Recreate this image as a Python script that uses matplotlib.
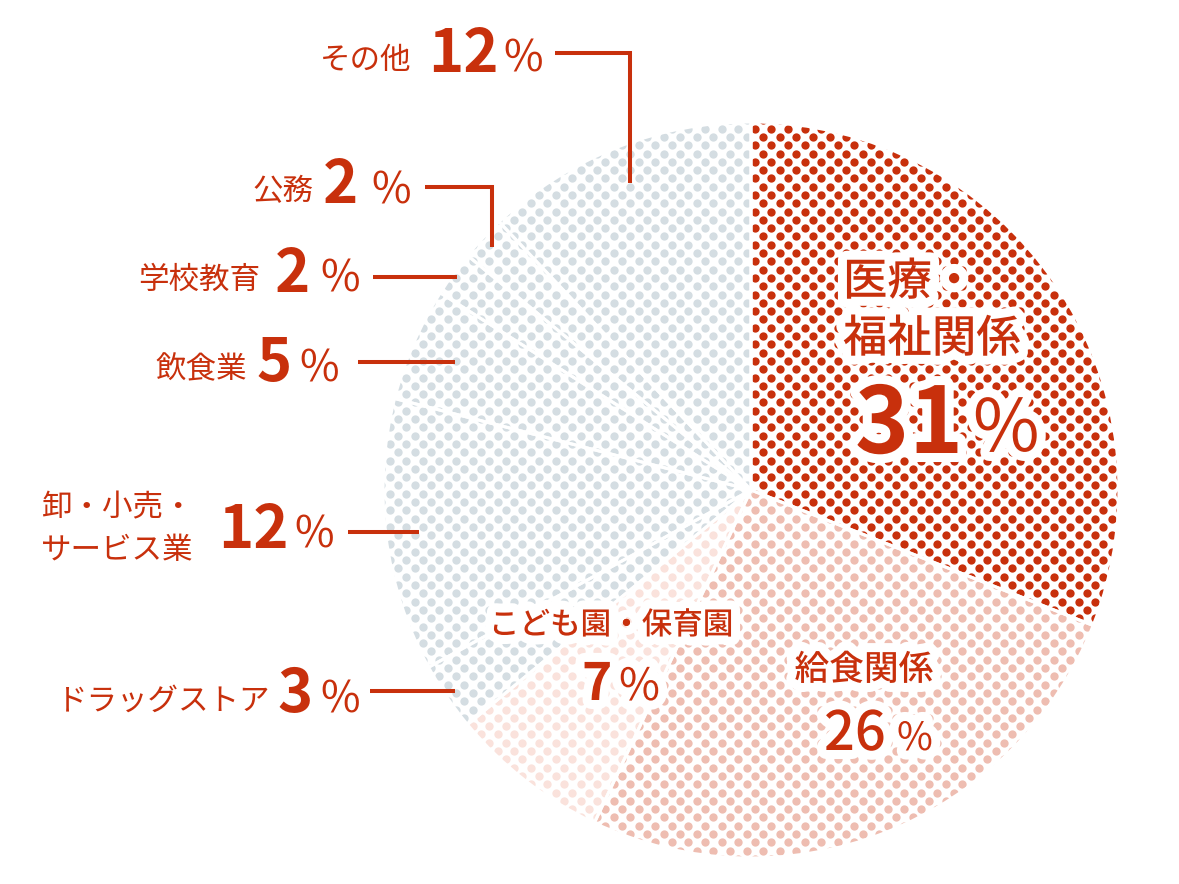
import matplotlib
matplotlib.use('Agg')
import matplotlib.pyplot as plt
import matplotlib.patheffects as pe
import numpy as np

# ---------------- data ----------------
categories = ['医療・福祉関係', '給食関係', 'こども園・保育園', 'ドラッグストア',
              '卸・小売・サービス業', '飲食業', '学校教育', '公務', 'その他']
shares = [31, 26, 7, 3, 12, 5, 2, 2, 12]

# ---------------- style ----------------
RED = '#C8300C'
dot_colors = ['#C8300C', '#EEBDB1', '#FAE2DC', '#D4DDE2', '#D4DDE2',
              '#D4DDE2', '#D4DDE2', '#D4DDE2', '#D4DDE2']
FONT = ['Noto Sans CJK JP', 'DejaVu Sans']
plt.rcParams['font.family'] = FONT

W, H = 1179, 884
CX, CY, R = 751, 490, 368
DX, DY = 16.6, 8.3          # dot grid spacing (px)
DOT_D = 8.3                 # dot diameter (px)

fig = plt.figure(figsize=(W / 100, H / 100), dpi=100)
ax = fig.add_axes([0, 0, 1, 1])

wedges, _ = ax.pie(shares, startangle=-90, counterclock=True,
                   center=(CX, CY), radius=R,
                   wedgeprops=dict(facecolor='none', edgecolor='white',
                                   linewidth=2.2, zorder=3))
ax.set_xlim(0, W)
ax.set_ylim(H, 0)
ax.set_aspect('auto')
ax.axis('off')

# dot texture, clipped by every wedge
pts = []
for i, yy in enumerate(np.arange(CY - R - 10, CY + R + 10, DY)):
    off = DX / 2 if i % 2 else 0.0
    for xx in np.arange(CX - R - 10 + off, CX + R + 10, DX):
        if (xx - CX) ** 2 + (yy - CY) ** 2 < (R + 8) ** 2:
            pts.append((xx, yy))
pts = np.array(pts)
s_pt = (DOT_D * 72 / 100) ** 2
for w, col in zip(wedges, dot_colors):
    sc = ax.scatter(pts[:, 0], pts[:, 1], s=s_pt, c=col, linewidths=0, zorder=1)
    sc.set_clip_path(w)

# ---------------- labels ----------------
halo = [pe.Stroke(linewidth=13, foreground='white'), pe.Normal()]

def txt(x, y, s, size, weight='normal', ha='left', va='baseline', effects=None, **kw):
    ax.text(x, y, s, fontsize=size, fontweight=weight, color=RED, ha=ha, va=va,
            path_effects=effects, zorder=5, **kw)

cum = np.cumsum([0] + shares)
total = float(sum(shares))
mid_deg = [(cum[i] + cum[i + 1]) / 2 / total * 360 for i in range(len(shares))]

def ray_point(i, r):
    a = np.deg2rad(mid_deg[i])
    return CX + r * np.sin(a), CY - r * np.cos(a)

# outer labels: (index, end radius, elbow y or None, line start x,
#                text right x, number left x, % left x, baseline offset)
outer = [
    (8, 330, 53, 555, 411, 428, 503, 19),
    (7, 355, 187, 425, 313, 323, 371, 16),
    (6, 363, None, 373, 260, 275, 320, 15),
    (5, 322, None, 358, 247, 257, 299, 19),
    (4, 335, None, 348, None, 218, 294, 16),
    (3, 358, None, 370, 270, 277, 320, 21),
]
outer_text = {8: 'その他', 7: '公務', 6: '学校教育', 5: '飲食業',
              4: '卸・小売・\nサービス業', 3: 'ドラッグストア'}
LW = 2.9
for idx, r, elbow, lx, tr, nl, pl, boff in outer:
    ex, ey = ray_point(idx, r)
    if elbow is not None:
        ly = elbow
        ax.plot([lx, ex, ex], [ly, ly, ey], color=RED, lw=LW,
                solid_capstyle='butt', solid_joinstyle='miter', zorder=4)
    else:
        ly = ey
        ax.plot([lx, ex], [ly, ly], color=RED, lw=LW,
                solid_capstyle='butt', zorder=4)
    base = ly + boff
    if idx == 4:
        txt(117, ly - 16, '卸・小売・', 22, ha='center')
        txt(117, ly + 27, 'サービス業', 22, ha='center')
    else:
        txt(tr, base - 3, outer_text[idx], 22, ha='right')
    txt(nl, base, str(shares[idx]), 43, weight='bold')
    txt(pl, base, '%', 31)

# inside labels
txt(843, 295, '医療・', 32, weight='medium', effects=halo)
txt(843, 352, '福祉関係', 32, weight='medium', effects=halo)
txt(855, 453, str(shares[0]), 66, weight='bold', effects=halo)
txt(973, 451, '%', 52, effects=halo)

txt(864, 680, '給食関係', 25, weight='medium', ha='center', effects=halo)
txt(824, 750, str(shares[1]), 39, weight='medium', effects=halo)
txt(897, 750, '%', 28, effects=halo)

txt(611, 634, 'こども園・保育園', 22, weight='medium', ha='center', effects=halo)
txt(582, 700, str(shares[2]), 37, weight='bold', effects=halo)
txt(619, 700, '%', 32, effects=halo)

fig.savefig('out.png', dpi=100)
